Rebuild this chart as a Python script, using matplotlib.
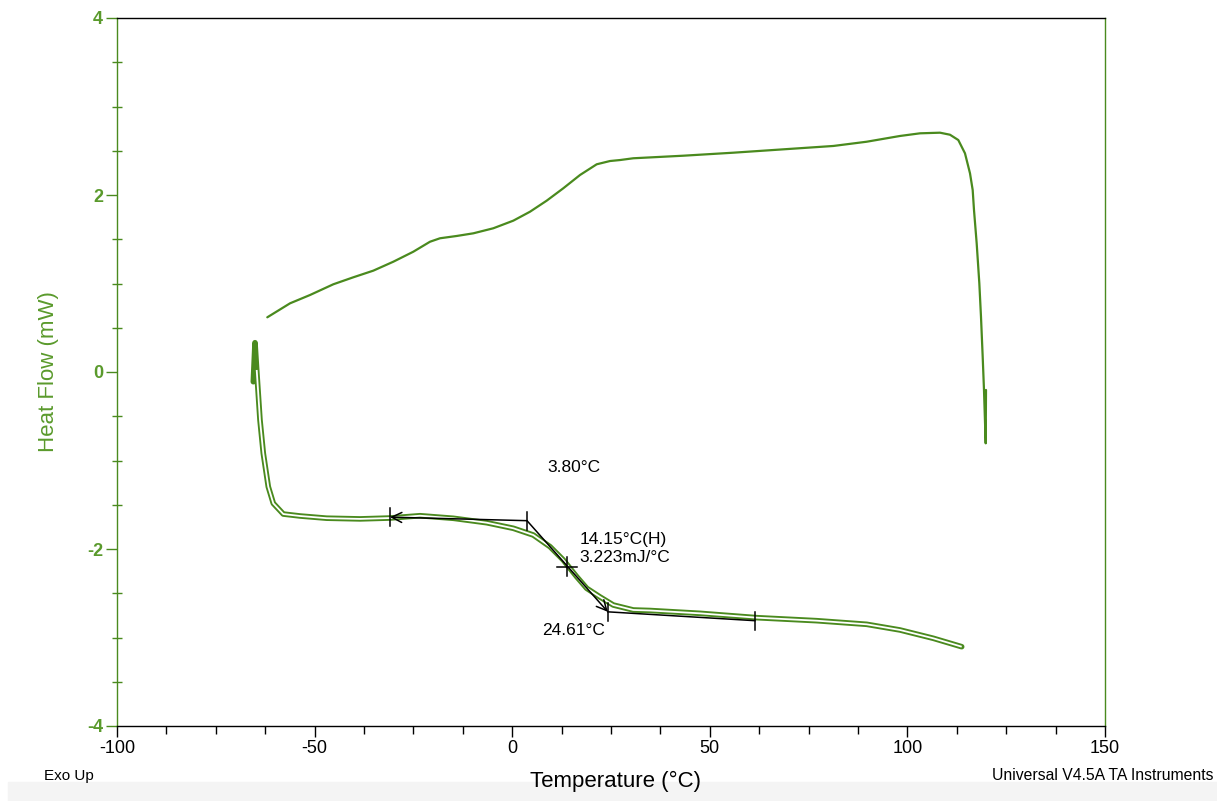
import numpy as np
import matplotlib
matplotlib.use("Agg")
import matplotlib.pyplot as plt
import matplotlib.ticker as mticker

plt.rcParams["font.family"] = ["Liberation Sans", "DejaVu Sans"]
plt.rcParams["axes.unicode_minus"] = False

# ---------------------------------------------------------------------------
# Data
# ---------------------------------------------------------------------------
# upper trace (single line)
up_t = [-61.97, -56.22, -51.16, -45.27, -40.21, -35.15, -30.09, -25.03, -20.80,
        -18.27, -14.04, -9.84, -4.78, 0.28, 4.50, 8.73, 12.93, 17.16, 21.38,
        24.75, 27.28, 30.64, 43.30, 55.95, 68.60, 81.25, 89.70, 98.13, 103.19,
        108.25, 110.78, 112.88, 114.57, 115.84, 116.52, 116.85, 117.53, 118.20,
        118.62, 119.05, 119.38, 119.81, 119.89]
up_hf = [0.618, 0.776, 0.870, 0.991, 1.070, 1.145, 1.246, 1.359, 1.472,
         1.511, 1.537, 1.567, 1.624, 1.710, 1.811, 1.936, 2.076, 2.226, 2.347,
         2.384, 2.395, 2.415, 2.444, 2.478, 2.516, 2.554, 2.602, 2.667, 2.697,
         2.704, 2.681, 2.621, 2.471, 2.245, 2.056, 1.831, 1.454, 1.002,
         0.625, 0.173, -0.203, -0.806, -0.203]

# lower trace (drawn as a double line)
lo_t = [-65.51, -65.08, -64.65, -63.82, -62.98, -61.72, -60.45, -57.92, -53.69,
        -46.94, -38.51, -30.92, -23.33, -14.90, -6.45, 0.28, 5.34, 9.57, 12.93,
        16.32, 18.85, 22.22, 25.58, 30.64, 34.87, 47.52, 61.87, 77.05, 89.70,
        98.13, 106.56, 113.74]
lo_hf = [-0.110, 0.331, 0.023, -0.542, -0.919, -1.296, -1.484, -1.605, -1.627,
         -1.652, -1.660, -1.650, -1.624, -1.653, -1.703, -1.766, -1.842, -1.974,
         -2.124, -2.313, -2.444, -2.542, -2.633, -2.689, -2.695, -2.727, -2.776,
         -2.810, -2.851, -2.915, -3.009, -3.104]

# glass transition construction
tg_onset = (-30.9, -1.64)
tg_start = (3.75, -1.68)
tg_mid = (13.9, -2.20)
tg_end = (24.2, -2.71)
tg_base = (61.4, -2.81)

GREEN = "#4a8a1e"
LABEL_GREEN = "#5a9a2c"

# ---------------------------------------------------------------------------
# Figure
# ---------------------------------------------------------------------------
W, H = 1217, 801
fig = plt.figure(figsize=(W / 100, H / 100), dpi=100)
fig.patch.set_facecolor("white")
fig.patches.append(plt.Rectangle((8 / W, 0), 1, 19 / H, transform=fig.transFigure,
                                 color="#f4f4f4", zorder=0))

ax = fig.add_axes([117 / W, (H - 726) / H, 988 / W, 708 / H])

ax.plot(up_t, up_hf, color=GREEN, lw=1.6, solid_capstyle="round",
        solid_joinstyle="round")
ax.plot(lo_t, lo_hf, color=GREEN, lw=4.0, solid_capstyle="round",
        solid_joinstyle="round")
ax.plot(lo_t[2:], lo_hf[2:], color="white", lw=1.3, solid_capstyle="butt",
        solid_joinstyle="round")

# tangent lines with arrows
arr = dict(arrowstyle="->", color="black", lw=1.1, mutation_scale=18,
           shrinkA=0, shrinkB=0)
ax.annotate("", xy=tg_onset, xytext=tg_start, arrowprops=arr)
ax.annotate("", xy=tg_end, xytext=tg_start, arrowprops=arr)
ax.plot([tg_end[0], tg_base[0]], [tg_end[1], tg_base[1]], color="black", lw=1.1)

# cross marks
for (tx, ty) in [tg_onset, tg_start, tg_end, tg_base]:
    ax.plot([tx, tx], [ty - 0.1, ty + 0.1], color="black", lw=1.1)
ax.plot([tg_mid[0], tg_mid[0]], [tg_mid[1] - 0.11, tg_mid[1] + 0.11], color="black", lw=1.1)
ax.plot([tg_mid[0] - 2.5, tg_mid[0] + 2.5], [tg_mid[1], tg_mid[1]], color="black", lw=1.1)

ax.text(8.8, -1.08, "3.80°C", fontsize=12.5, va="center", ha="left")
ax.text(17.0, -1.89, "14.15°C(H)", fontsize=12.5, va="center", ha="left")
ax.text(17.0, -2.10, "3.223mJ/°C", fontsize=12.5, va="center", ha="left")
ax.text(23.5, -2.92, "24.61°C", fontsize=12.5, va="center", ha="right")

ax.set_xlim(-100, 150)
ax.set_ylim(-4, 4)
ax.xaxis.set_major_locator(mticker.MultipleLocator(50))
ax.xaxis.set_minor_locator(mticker.MultipleLocator(12.5))
ax.yaxis.set_major_locator(mticker.MultipleLocator(2))
ax.yaxis.set_minor_locator(mticker.MultipleLocator(0.5))

ax.spines["top"].set_color("black")
ax.spines["bottom"].set_color("black")
ax.spines["left"].set_color(GREEN)
ax.spines["right"].set_color(GREEN)
for s in ax.spines.values():
    s.set_linewidth(1.0)

ax.tick_params(axis="x", which="major", direction="out", length=8, width=1,
               color="black", labelsize=13, pad=2)
ax.tick_params(axis="x", which="minor", direction="out", length=6, width=1,
               color="black")
ax.tick_params(axis="y", which="major", direction="out", length=8, width=1,
               color=GREEN, labelcolor=LABEL_GREEN, labelsize=13, pad=2)
ax.tick_params(axis="y", which="minor", direction="inout", length=7, width=1,
               color=GREEN)
for lab in ax.get_yticklabels():
    lab.set_fontweight("bold")

ax.set_ylabel("Heat Flow (mW)", fontsize=16, color=LABEL_GREEN, labelpad=20)

fig.text(616 / W, 1 - 781 / H, "Temperature (°C)", fontsize=16, ha="center", va="center")
fig.text(44 / W, 1 - 776 / H, "Exo Up", fontsize=11, ha="left", va="center")
fig.text(1213 / W, 1 - 776 / H, "Universal V4.5A TA Instruments", fontsize=11.3,
         ha="right", va="center")

fig.savefig("out.png", dpi=100)
